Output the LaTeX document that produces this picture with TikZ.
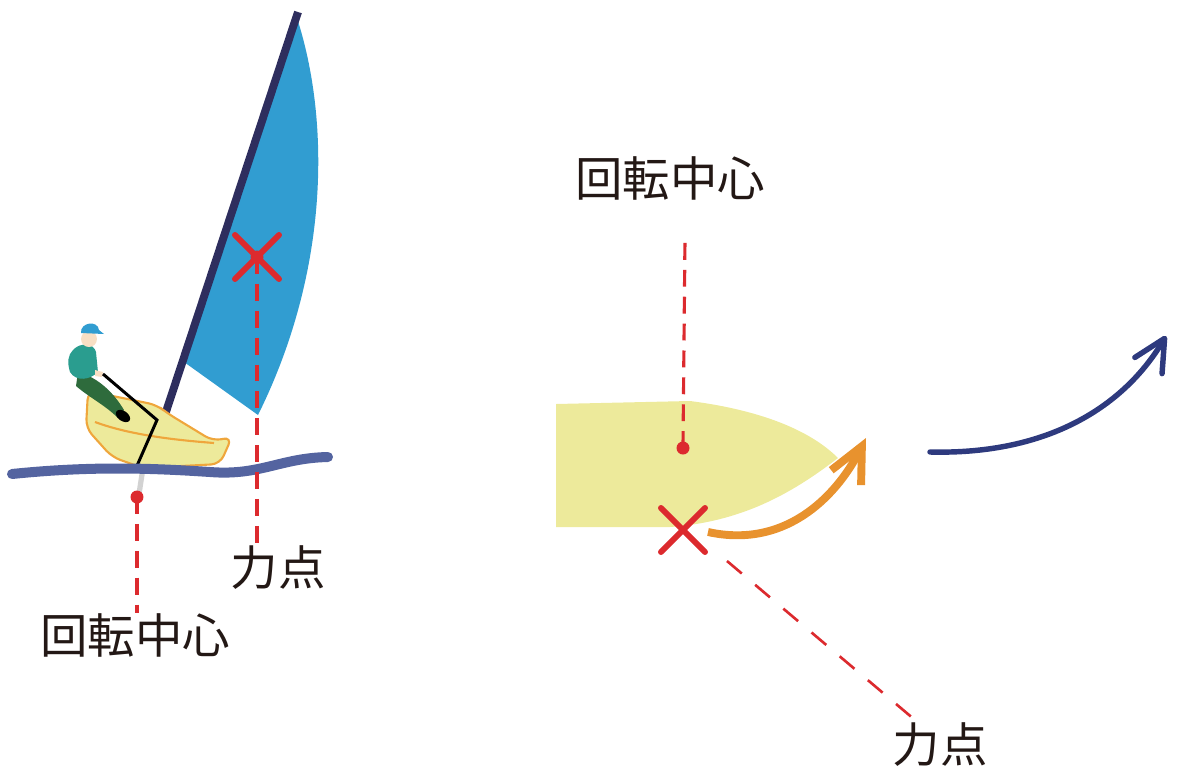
\documentclass[tikz,border=0pt]{standalone}
\usepackage{fontspec}
\usepackage{tikz}
\usetikzlibrary{arrows.meta}
\newfontfamily\jp{Noto Sans CJK JP}
\definecolor{sailblue}{HTML}{319DD1}
\definecolor{mastnavy}{HTML}{2E2E5E}
\definecolor{wavecol}{HTML}{5464A0}
\definecolor{hullfill}{HTML}{EDEA9B}
\definecolor{hullline}{HTML}{EFA63C}
\definecolor{markred}{HTML}{DC2A2E}
\definecolor{turnorange}{HTML}{E8922E}
\definecolor{driftnavy}{HTML}{2E3A7E}
\definecolor{ink}{HTML}{231815}
\definecolor{shirt}{HTML}{2A9D8F}
\definecolor{pants}{HTML}{2E6B3C}
\definecolor{skin}{HTML}{F8DFC4}
\tikzset{
  guide/.style = {markred, line width=1.8pt, dash pattern=on 9.6pt off 5.7pt},
  slantguide/.style = {markred, line width=1.5pt, dash pattern=on 11pt off 10pt},
  tagtext/.style = {text=ink, font=\jp\fontsize{27}{30}\selectfont, inner sep=0pt},
}
\newcommand{\rdot}[1]{
\fill [markred] (#1) circle [radius = 0.13cm]
}
\newcommand{\rcross}[1]{
\draw [markred, line width=3.4pt, line cap=round] (#1) +(-22,-22) -- +(22,22) +(-22,22) -- +(22,-22)
}

\begin{document}
\begin{tikzpicture}[x=0.02cm, y=-0.02cm]
\useasboundingbox (0,0) rectangle (1178,775);

% side view
\coordinate (pivotL) at (137,497);
\coordinate (forceL) at (257,257);
\node [tagtext] (pivotLtext) at (135,635) {回転中心};
\node [tagtext] (forceLtext) at (278,568) {力点};

% sail and mast
\fill [sailblue] (297,18) .. controls (330,120) and (330,270) .. (258,415) -- (184,362) -- cycle;
\draw [mastnavy, line width=4.5pt] (298,12) -- (158,436);

% centerboard
\draw [gray!35, line width=3pt] (143,468) -- (139,494);

% hull
\draw [hullline, fill=hullfill, line width=1.2pt, rounded corners=5]
  (88,391) -- (157,405) -- (167,413) -- (213,441) -- (232,437) -- (220,464) -- (143,468) -- (112,457) -- (86,428) -- cycle;
\draw [hullline, line width=1.2pt] (95,422) .. controls (130,435) and (175,440) .. (214,443);

% sailor
\fill [pants] (78,372) .. controls (100,378) and (115,395) .. (124,410) -- (118,418) .. controls (105,405) and (90,398) .. (76,386) -- cycle;
\fill [black, rotate around={-35:(123,416)}] (123,416) ellipse [x radius=0.16cm, y radius=0.1cm];
\fill [shirt] (73,350) .. controls (80,342) and (94,343) .. (96,352) -- (98,372) .. controls (90,380) and (76,382) .. (70,372) .. controls (67,362) and (68,355) .. (73,350) -- cycle;
\fill [skin] (89,339) circle [radius=0.16cm];
\fill [skin] (95,370) -- (103,372) -- (102,377) -- (95,376) -- cycle;
\fill [sailblue] (81,333) .. controls (80,322) and (98,320) .. (99,330) -- (104,334) -- cycle;
\draw [black, line width=1.7pt] (103,374) -- (157,420) -- (136,468);

% water
\draw [wavecol, line width=5.7pt, line cap=round] (12,474) .. controls (90,466) and (150,468) .. (210,472) .. controls (260,476) and (280,458) .. (328,457);

\rdot{pivotL};
\draw [guide] (pivotL) -- (pivotLtext.north -| pivotL);
\rdot{forceL};
\draw [guide] (forceL) -- (forceLtext.north -| forceL);
\rcross{forceL};

% top view
\coordinate (pivotR) at (683,448);
\coordinate (forceR) at (683,530);
\coordinate (pivotRend) at (685,238);
\coordinate (forceRstart) at (727,561);
\coordinate (forceRend) at (915,720);
\node [tagtext] (pivotRtext) at (670,178) {回転中心};
\node [tagtext] (forceRtext) at (940,745) {力点};

\fill [hullfill] (556,404) -- (690,401) .. controls (760,410) and (810,430) .. (838,458)
  .. controls (790,495) and (740,522) .. (670,527) -- (556,527) -- cycle;

\rdot{pivotR};
\draw [guide] (pivotR) -- (pivotRend);
\draw [slantguide] (forceRstart) -- (forceRend);
\rcross{forceR};

% turning and drift arrows
\draw [turnorange, line width=4.5pt, -{Straight Barb[length=20pt, width=19pt, line width=4.5pt]}]
  (708,532) .. controls (790,550) and (840,490) .. (866,438);
\draw [driftnavy, line width=3.1pt, line cap=round, -{Straight Barb[length=18pt, width=18pt, line width=3.1pt, round]}]
  (930,452) .. controls (1050,455) and (1125,405) .. (1166,336);
\end{tikzpicture}
\end{document}
